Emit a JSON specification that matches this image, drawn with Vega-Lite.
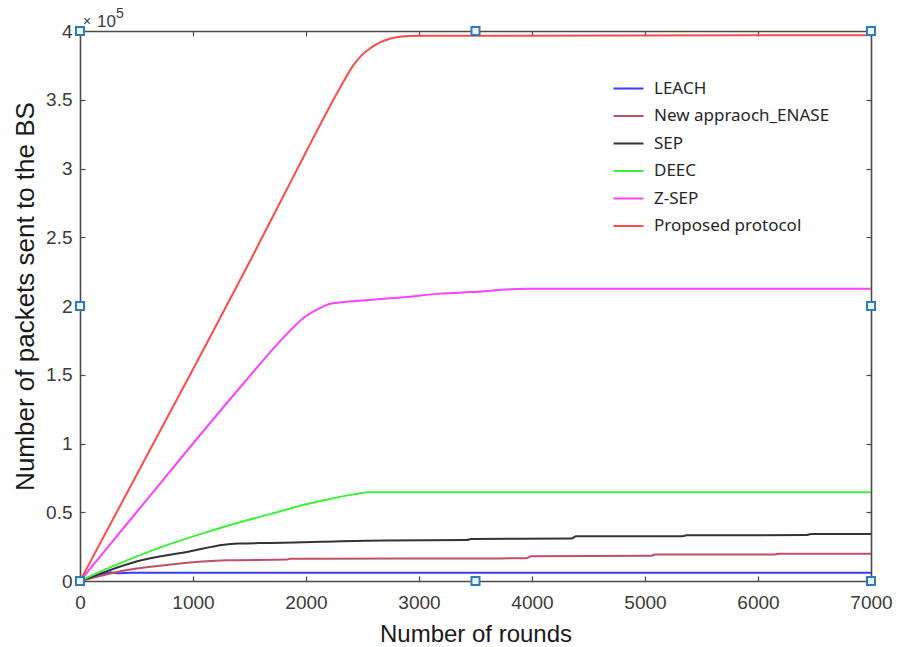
{
  "$schema": "https://vega.github.io/schema/vega-lite/v6.json",
  "width": 791,
  "height": 550,
  "autosize": "none",
  "padding": {"left": 80, "top": 31, "right": 27, "bottom": 66},
  "background": "white",
  "view": {"stroke": null},
  "config": {
    "axis": {
      "grid": false,
      "domainColor": "#4a4a4a",
      "domainWidth": 1.6,
      "tickColor": "#4a4a4a",
      "tickWidth": 1.2,
      "tickSize": -5,
      "labelFont": "Liberation Sans",
      "labelFontSize": 19,
      "labelColor": "#3a3a3a",
      "titleFont": "Liberation Sans",
      "titleFontWeight": "normal",
      "titleColor": "#1a1a1a"
    }
  },
  "layer": [
    {
      "data": {"values": [
        {"s":"LEACH","r":0,"v":0},{"s":"LEACH","r":100,"v":0.025},{"s":"LEACH","r":180,"v":0.045},{"s":"LEACH","r":270,"v":0.064},{"s":"LEACH","r":340,"v":0.056},{"s":"LEACH","r":450,"v":0.06},{"s":"LEACH","r":7000,"v":0.06},
        {"s":"New appraoch_ENASE","r":0,"v":0},{"s":"New appraoch_ENASE","r":150,"v":0.03},{"s":"New appraoch_ENASE","r":358,"v":0.071},{"s":"New appraoch_ENASE","r":801,"v":0.12},{"s":"New appraoch_ENASE","r":1303,"v":0.151},{"s":"New appraoch_ENASE","r":1834,"v":0.156},{"s":"New appraoch_ENASE","r":1860,"v":0.162},{"s":"New appraoch_ENASE","r":3950,"v":0.165},{"s":"New appraoch_ENASE","r":3990,"v":0.18},{"s":"New appraoch_ENASE","r":5050,"v":0.183},{"s":"New appraoch_ENASE","r":5090,"v":0.192},{"s":"New appraoch_ENASE","r":6150,"v":0.193},{"s":"New appraoch_ENASE","r":6190,"v":0.199},{"s":"New appraoch_ENASE","r":7000,"v":0.199},
        {"s":"SEP","r":0,"v":0},{"s":"SEP","r":200,"v":0.06},{"s":"SEP","r":506,"v":0.143},{"s":"SEP","r":978,"v":0.216},{"s":"SEP","r":1273,"v":0.264},{"s":"SEP","r":1400,"v":0.272},{"s":"SEP","r":1686,"v":0.277},{"s":"SEP","r":2128,"v":0.285},{"s":"SEP","r":2700,"v":0.295},{"s":"SEP","r":3420,"v":0.298},{"s":"SEP","r":3460,"v":0.306},{"s":"SEP","r":4350,"v":0.31},{"s":"SEP","r":4390,"v":0.325},{"s":"SEP","r":5330,"v":0.326},{"s":"SEP","r":5370,"v":0.332},{"s":"SEP","r":6430,"v":0.334},{"s":"SEP","r":6470,"v":0.342},{"s":"SEP","r":7000,"v":0.342},
        {"s":"DEEC","r":0,"v":0},{"s":"DEEC","r":200,"v":0.075},{"s":"DEEC","r":400,"v":0.145},{"s":"DEEC","r":600,"v":0.21},{"s":"DEEC","r":801,"v":0.27},{"s":"DEEC","r":1100,"v":0.35},{"s":"DEEC","r":1391,"v":0.422},{"s":"DEEC","r":1700,"v":0.49},{"s":"DEEC","r":1981,"v":0.554},{"s":"DEEC","r":2200,"v":0.595},{"s":"DEEC","r":2423,"v":0.63},{"s":"DEEC","r":2571,"v":0.645},{"s":"DEEC","r":7000,"v":0.645},
        {"s":"Z-SEP","r":0,"v":0},{"s":"Z-SEP","r":500,"v":0.5},{"s":"Z-SEP","r":1000,"v":1.0},{"s":"Z-SEP","r":1450,"v":1.44},{"s":"Z-SEP","r":1800,"v":1.77},{"s":"Z-SEP","r":1980,"v":1.915},{"s":"Z-SEP","r":2100,"v":1.975},{"s":"Z-SEP","r":2217,"v":2.016},{"s":"Z-SEP","r":2500,"v":2.04},{"s":"Z-SEP","r":2865,"v":2.064},{"s":"Z-SEP","r":3190,"v":2.09},{"s":"Z-SEP","r":3456,"v":2.101},{"s":"Z-SEP","r":3942,"v":2.125},{"s":"Z-SEP","r":7000,"v":2.125},
        {"s":"Proposed protocol","r":0,"v":0},{"s":"Proposed protocol","r":1000,"v":1.54},{"s":"Proposed protocol","r":1500,"v":2.32},{"s":"Proposed protocol","r":1800,"v":2.8},{"s":"Proposed protocol","r":2000,"v":3.12},{"s":"Proposed protocol","r":2188,"v":3.417},{"s":"Proposed protocol","r":2300,"v":3.585},{"s":"Proposed protocol","r":2423,"v":3.755},{"s":"Proposed protocol","r":2500,"v":3.83},{"s":"Proposed protocol","r":2571,"v":3.875},{"s":"Proposed protocol","r":2650,"v":3.915},{"s":"Proposed protocol","r":2748,"v":3.945},{"s":"Proposed protocol","r":2850,"v":3.96},{"s":"Proposed protocol","r":2984,"v":3.965},{"s":"Proposed protocol","r":7000,"v":3.97}
      ]},
      "mark": {"type": "line", "strokeWidth": 2, "interpolate": "monotone"},
      "encoding": {
        "x": {
          "field": "r", "type": "quantitative",
          "scale": {"domain": [0, 7000], "nice": false},
          "axis": {
            "orient": "bottom",
            "values": [0,1000,2000,3000,4000,5000,6000,7000],
            "format": "d",
            "labelBaseline": "alphabetic",
            "labelPadding": 32,
            "labelFlush": false,
            "title": "Number of rounds",
            "titleFontSize": 24,
            "titleBaseline": "alphabetic",
            "titleY": 60
          }
        },
        "y": {
          "field": "v", "type": "quantitative",
          "scale": {"domain": [0, 4], "nice": false, "zero": true},
          "axis": {
            "orient": "left",
            "values": [0,0.5,1,1.5,2,2.5,3,3.5,4],
            "format": "~g",
            "labelPadding": 13,
            "labelFlush": false,
            "title": "Number of packets sent to the BS",
            "titleFontSize": 26,
            "titleAngle": -90,
            "titleAlign": "center",
            "titleBaseline": "alphabetic",
            "titleX": -47,
            "titleY": 265
          }
        },
        "color": {
          "field": "s", "type": "nominal",
          "scale": {
            "domain": ["LEACH","New appraoch_ENASE","SEP","DEEC","Z-SEP","Proposed protocol"],
            "range": ["#3b3bff","#bf4f62","#333333","#3cf03c","#ff40ff","#ff4a4a"]
          },
          "legend": {
            "title": null,
            "orient": "none",
            "legendX": 540,
            "legendY": 49,
            "padding": 0,
            "symbolType": "M-2,0H2",
            "symbolSize": 225,
            "symbolStrokeWidth": 2,
            "labelOffset": 17,
            "labelFont": "Noto Sans",
            "labelFontSize": 17,
            "labelColor": "#262626",
            "rowPadding": 9.5,
            "labelLimit": 400
          }
        }
      }
    },
    {
      "data": {"values": [
        {"hx":0,"hy":4},{"hx":3500,"hy":4},{"hx":7000,"hy":4},
        {"hx":0,"hy":2},{"hx":7000,"hy":2},
        {"hx":0,"hy":0},{"hx":3500,"hy":0},{"hx":7000,"hy":0}
      ]},
      "mark": {"type": "point", "shape": "square", "size": 64, "filled": true, "fill": "#eef4fb", "stroke": "#2e7bbf", "strokeWidth": 2, "opacity": 1},
      "encoding": {
        "x": {"field": "hx", "type": "quantitative",
          "axis": {"orient": "top", "labels": false, "title": null, "values": [0,1000,2000,3000,4000,5000,6000,7000]}},
        "y": {"field": "hy", "type": "quantitative",
          "axis": {"orient": "right", "labels": false, "title": null, "values": [0,0.5,1,1.5,2,2.5,3,3.5,4]}}
      }
    },
    {
      "data": {"values": [{"ex":0,"ey":4,"t":"×"}]},
      "mark": {"type": "text", "align": "left", "baseline": "alphabetic", "dx": 3, "dy": -5, "fontSize": 14, "font": "Liberation Sans", "color": "#3a3a3a"},
      "encoding": {
        "x": {"field": "ex", "type": "quantitative", "axis": null},
        "y": {"field": "ey", "type": "quantitative", "axis": null},
        "text": {"field": "t"}
      }
    },
    {
      "data": {"values": [{"ex":0,"ey":4,"t":"10"}]},
      "mark": {"type": "text", "align": "left", "baseline": "alphabetic", "dx": 17, "dy": -4, "fontSize": 17, "font": "Liberation Sans", "color": "#3a3a3a"},
      "encoding": {
        "x": {"field": "ex", "type": "quantitative", "axis": null},
        "y": {"field": "ey", "type": "quantitative", "axis": null},
        "text": {"field": "t"}
      }
    },
    {
      "data": {"values": [{"ex":0,"ey":4,"t":"5"}]},
      "mark": {"type": "text", "align": "left", "baseline": "alphabetic", "dx": 36, "dy": -13, "fontSize": 14, "font": "Liberation Sans", "color": "#3a3a3a"},
      "encoding": {
        "x": {"field": "ex", "type": "quantitative", "axis": null},
        "y": {"field": "ey", "type": "quantitative", "axis": null},
        "text": {"field": "t"}
      }
    }
  ],
  "resolve": {"axis": {"x": "independent", "y": "independent"}}
}
